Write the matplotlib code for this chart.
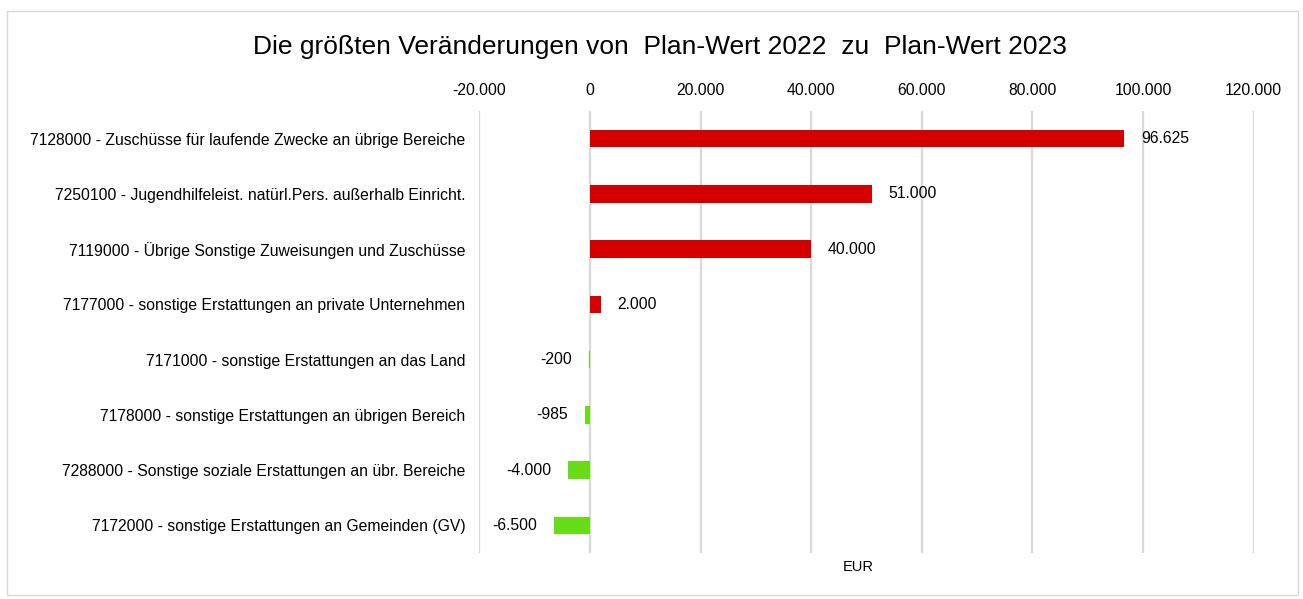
import matplotlib.pyplot as plt
from matplotlib.patches import Rectangle

plt.rcParams['font.family'] = ['Liberation Sans', 'DejaVu Sans']

# data
labels = ['7128000 - Zuschüsse für laufende Zwecke an übrige Bereiche',
          '7250100 - Jugendhilfeleist. natürl.Pers. außerhalb Einricht.',
          '7119000 - Übrige Sonstige Zuweisungen und Zuschüsse',
          '7177000 - sonstige Erstattungen an private Unternehmen',
          '7171000 - sonstige Erstattungen an das Land',
          '7178000 - sonstige Erstattungen an übrigen Bereich',
          '7288000 - Sonstige soziale Erstattungen an übr. Bereiche',
          '7172000 - sonstige Erstattungen an Gemeinden (GV)']
values = [96625, 51000, 40000, 2000, -200, -985, -4000, -6500]
xticks = [-20000, 0, 20000, 40000, 60000, 80000, 100000, 120000]

def de_fmt(v):
    return '{:,.0f}'.format(v).replace(',', '.')

fs = 11.3
fig = plt.figure(figsize=(13.03, 5.99), dpi=100)
ax = fig.add_axes([0.3679, 0.0768, 0.5943, 0.7379])

colors = ['#D40000' if v > 0 else '#66DD16' for v in values]
pos = list(range(len(labels)))
ax.barh(pos, values, height=0.315, color=colors, zorder=3)

ax.set_ylim(len(labels) - 0.5, -0.5)
ax.set_xlim(-20000, 120000)
ax.set_xticks(xticks)
ax.set_xticklabels([de_fmt(t) for t in xticks], fontsize=fs)
ax.xaxis.tick_top()
ax.tick_params(axis='x', length=0, pad=9)
ax.set_yticks(pos)
ax.set_yticklabels(labels, fontsize=fs)
ax.tick_params(axis='y', length=0, pad=10)
ax.grid(axis='x', color='#D9D9D9', linewidth=1.6, zorder=0)
for s in ax.spines.values():
    s.set_visible(False)

for p, v in zip(pos, values):
    if v >= 0:
        ax.annotate(de_fmt(v), (v, p), xytext=(12, 0), textcoords='offset points',
                    ha='left', va='center', fontsize=fs)
    else:
        ax.annotate(de_fmt(v), (v, p), xytext=(-12, 0), textcoords='offset points',
                    ha='right', va='center', fontsize=fs)

fig.text(659.5 / 1303, 1 - 47 / 599,
         'Die größten Veränderungen von  Plan-Wert 2022  zu  Plan-Wert 2023',
         ha='center', va='center', fontsize=19)
fig.text(858 / 1303, 1 - 567 / 599, 'EUR', ha='center', va='center', fontsize=10.5)

# light frame round the chart area
fig.patches.append(Rectangle((7 / 1303, 4 / 599), 1291 / 1303, 584 / 599,
                             transform=fig.transFigure, fill=False,
                             edgecolor='#D9D9D9', linewidth=1))

fig.savefig('out.png', dpi=100)
